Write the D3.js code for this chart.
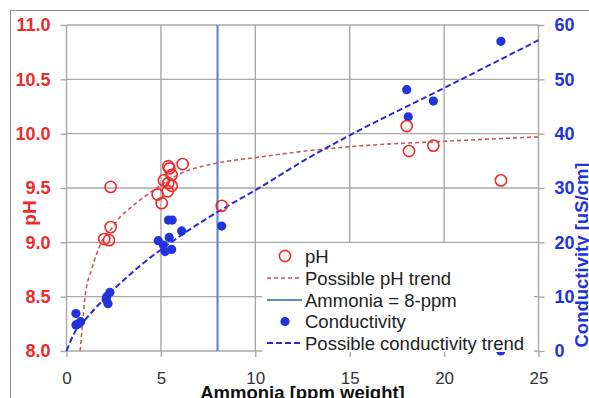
<!DOCTYPE html>
<html><head><meta charset="utf-8">
<script src="https://cdn.jsdelivr.net/npm/d3@7"></script>
<style>body{margin:0;background:#fff;} svg{display:block;font-family:"Liberation Sans",Arial,sans-serif;}</style>
</head><body><svg id="c" width="589" height="398"></svg>
<script>
// ---- data ----
const xTicks = [0, 5, 10, 15, 20, 25];
const phTicks = [8.0, 8.5, 9.0, 9.5, 10.0, 10.5, 11.0];
const condTicks = [0, 10, 20, 30, 40, 50, 60];

const phAmmonia = [2.34, 2.34, 2.0, 2.25, 5.39, 5.45, 6.15, 5.57, 5.16, 5.39, 5.57, 4.83, 5.36, 5.04, 8.22, 18.02, 18.14, 19.43, 23.01];
const phValues  = [9.51, 9.14, 9.03, 9.02, 9.70, 9.68, 9.72, 9.62, 9.57, 9.545, 9.52, 9.44, 9.47, 9.36, 9.336, 10.07, 9.84, 9.89, 9.57];

const condAmmonia = [0.5, 0.63, 0.75, 0.5, 2.1, 2.3, 2.2, 2.13, 4.86, 5.13, 5.22, 5.57, 5.44, 5.4, 5.6, 6.1, 8.22, 18.02, 18.1, 19.43, 23.01, 23.0];
const condValues  = [4.8, 5.0, 5.4, 6.9, 9.5, 10.8, 8.7, 10.0, 20.3, 19.5, 18.3, 18.7, 20.9, 24.1, 24.1, 22.1, 23.0, 48.1, 43.1, 46.0, 57.0, 0.0];

const phTrendX = [0.72, 0.85, 0.98, 1.33, 1.85, 2.4, 2.83, 3.36, 3.9, 4.6, 6.0, 8.0, 10.0, 12.9, 15.0, 20.0, 25.0];
const phTrendY = [8.0, 8.25, 8.5, 8.75, 9.0, 9.13, 9.23, 9.315, 9.39, 9.48, 9.63, 9.73, 9.78, 9.845, 9.88, 9.93, 9.97];

const condTrendX = [0, 0.4, 1.0, 2.2, 3.9, 5.5, 7.3, 8.2, 10.0, 12.9, 15.0, 20.0, 25.0];
const condTrendY = [0, 3.2, 5.8, 10.3, 15.7, 19.9, 24.1, 26.0, 29.6, 35.7, 39.7, 48.4, 57.2];

const ammoniaLimit = 8;
const legendLabels = ["pH", "Possible pH trend", "Ammonia = 8-ppm", "Conductivity", "Possible conductivity trend"];

// ---- styles ----
const RED = "#ee2a2a", BLUE = "#2233dd", TRENDRED = "#c55a58", TRENDBLUE = "#2a2ad6", LIMIT = "#5b8cc8", GRID = "#a8a8a8";

const svg = d3.select("#c");
const x = d3.scaleLinear().domain([0, 25]).range([66.5, 538.5]);
const yL = d3.scaleLinear().domain([8, 11]).range([351, 25]);
const yR = d3.scaleLinear().domain([0, 60]).range([351, 25]);

// outer frame
svg.append("rect").attr("x", 10.5).attr("y", 10.5).attr("width", 700).attr("height", 500)
  .attr("fill", "none").attr("stroke", "#8c8c8c").attr("stroke-width", 1);

// grid
const g = svg.append("g");
g.selectAll(".hg").data(phTicks).join("line")
  .attr("x1", x(0)).attr("x2", x(25)).attr("y1", d => yL(d)).attr("y2", d => yL(d))
  .attr("stroke", GRID).attr("stroke-width", 1.4);
g.selectAll(".vg").data(xTicks).join("line")
  .attr("x1", d => x(d)).attr("x2", d => x(d)).attr("y1", yL(11)).attr("y2", yL(8))
  .attr("stroke", GRID).attr("stroke-width", 1.4);

// axes
const xAxis = svg.append("g").attr("transform", `translate(0,${yL(8)})`)
  .call(d3.axisBottom(x).tickValues(xTicks).tickSize(6).tickPadding(15).tickFormat(d3.format("d")));
xAxis.select(".domain").remove();
xAxis.selectAll("line").attr("stroke", GRID).attr("stroke-width", 1.4);
xAxis.selectAll("text").attr("font-size", 17).attr("fill", "#333").attr("font-family", "Liberation Sans, Arial, sans-serif");

const lAxis = svg.append("g").attr("transform", `translate(${x(0)},0)`)
  .call(d3.axisLeft(yL).tickValues(phTicks).tickSize(6).tickPadding(10).tickFormat(d3.format(".1f")));
lAxis.select(".domain").remove();
lAxis.selectAll("line").attr("stroke", GRID).attr("stroke-width", 1.4);
lAxis.selectAll("text").attr("font-size", 18).attr("font-weight", "bold").attr("fill", RED).attr("font-family", "Liberation Sans, Arial, sans-serif");

const rAxis = svg.append("g").attr("transform", `translate(${x(25)},0)`)
  .call(d3.axisRight(yR).tickValues(condTicks).tickSize(6).tickPadding(10).tickFormat(d3.format("d")));
rAxis.select(".domain").remove();
rAxis.selectAll("line").attr("stroke", GRID).attr("stroke-width", 1.4);
rAxis.selectAll("text").attr("font-size", 18).attr("font-weight", "bold").attr("fill", BLUE).attr("font-family", "Liberation Sans, Arial, sans-serif");

// axis titles
svg.append("text").attr("x", x(12.5)).attr("y", 398.5).attr("text-anchor", "middle")
  .attr("font-size", 18.5).attr("font-weight", "bold").attr("fill", "#111").text("Ammonia [ppm weight]");
svg.append("text").attr("transform", "translate(36,213) rotate(-90)").attr("text-anchor", "middle")
  .attr("font-size", 19).attr("font-weight", "bold").attr("fill", RED).text("pH");
svg.append("text").attr("transform", "translate(588,255) rotate(-90)").attr("text-anchor", "middle")
  .attr("font-size", 18.5).attr("font-weight", "bold").attr("fill", BLUE).text("Conductivity [uS/cm]");

// limit line
svg.append("line").attr("x1", x(ammoniaLimit)).attr("x2", x(ammoniaLimit)).attr("y1", yL(11)).attr("y2", yL(8))
  .attr("stroke", LIMIT).attr("stroke-width", 2.2);

// trends
const phTrend = phTrendX.map((d, i) => [d, phTrendY[i]]);
const condTrend = condTrendX.map((d, i) => [d, condTrendY[i]]);
svg.append("path").datum(phTrend)
  .attr("d", d3.line().x(d => x(d[0])).y(d => yL(d[1])).curve(d3.curveMonotoneX))
  .attr("fill", "none").attr("stroke", TRENDRED).attr("stroke-width", 1.6).attr("stroke-dasharray", "4,3");
svg.append("path").datum(condTrend)
  .attr("d", d3.line().x(d => x(d[0])).y(d => yR(d[1])).curve(d3.curveMonotoneX))
  .attr("fill", "none").attr("stroke", TRENDBLUE).attr("stroke-width", 2).attr("stroke-dasharray", "6,3");

// points
svg.append("g").selectAll("circle").data(condAmmonia.map((d, i) => [d, condValues[i]])).join("circle")
  .attr("cx", d => x(d[0])).attr("cy", d => yR(d[1])).attr("r", 4.6).attr("fill", BLUE);
svg.append("g").selectAll("circle").data(phAmmonia.map((d, i) => [d, phValues[i]])).join("circle")
  .attr("cx", d => x(d[0])).attr("cy", d => yL(d[1])).attr("r", 5.6)
  .attr("fill", "none").attr("stroke", RED).attr("stroke-width", 1.6);

// legend
const lg = svg.append("g");
lg.append("rect").attr("x", 262).attr("y", 243).attr("width", 272).attr("height", 109).attr("fill", "#fff");
const rowY = [256, 278, 300, 321.5, 343];
const mx0 = 267, mx1 = 302, mc = 285;
lg.append("circle").attr("cx", mc).attr("cy", rowY[0]).attr("r", 5.6).attr("fill", "none").attr("stroke", RED).attr("stroke-width", 1.6);
lg.append("line").attr("x1", mx0).attr("x2", mx1).attr("y1", rowY[1]).attr("y2", rowY[1]).attr("stroke", TRENDRED).attr("stroke-width", 1.6).attr("stroke-dasharray", "4,3");
lg.append("line").attr("x1", mx0).attr("x2", mx1).attr("y1", rowY[2]).attr("y2", rowY[2]).attr("stroke", LIMIT).attr("stroke-width", 2.2);
lg.append("circle").attr("cx", mc).attr("cy", rowY[3]).attr("r", 4.6).attr("fill", BLUE);
lg.append("line").attr("x1", mx0).attr("x2", mx1).attr("y1", rowY[4]).attr("y2", rowY[4]).attr("stroke", TRENDBLUE).attr("stroke-width", 2).attr("stroke-dasharray", "6,3");
lg.selectAll("text").data(legendLabels).join("text")
  .attr("x", 305).attr("y", (d, i) => rowY[i] + 6.5).attr("font-size", 18.5).attr("fill", "#222").text(d => d);
</script></body></html>
